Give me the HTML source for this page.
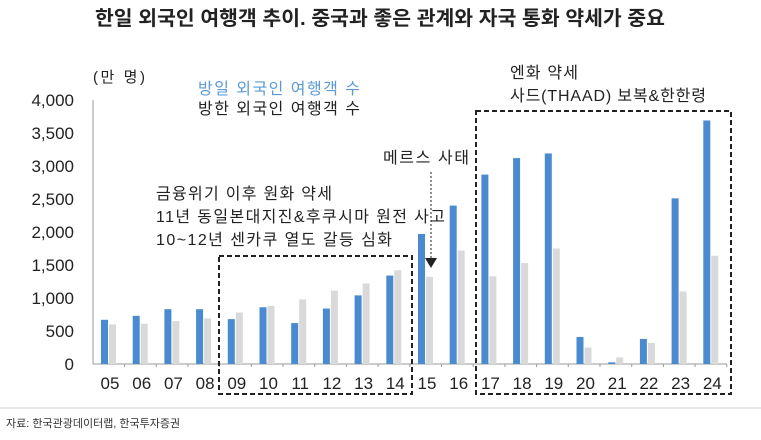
<!DOCTYPE html>
<html><head><meta charset="utf-8"><style>
body{margin:0;background:#fff;}
svg text{font-family:"Liberation Sans","Noto Sans CJK KR",sans-serif;}
</style></head><body>
<svg width="761" height="435" xmlns="http://www.w3.org/2000/svg">
<text x="95" y="25" font-size="20" font-weight="bold" fill="#222" textLength="570" lengthAdjust="spacingAndGlyphs">한일 외국인 여행객 추이. 중국과 좋은 관계와 자국 통화 약세가 중요</text>
<g font-size="17" fill="#222" text-anchor="end">
<text x="74" y="106">4,000</text><text x="74" y="139">3,500</text><text x="74" y="172">3,000</text>
<text x="74" y="205">2,500</text><text x="74" y="238">2,000</text><text x="74" y="271">1,500</text>
<text x="74" y="304">1,000</text><text x="74" y="337">500</text><text x="74" y="370">0</text>
</g>
<text x="93" y="82" font-size="15" fill="#222" textLength="52">(만 명)</text>
<text x="198" y="94" font-size="16" fill="#5b9bd5" textLength="162">방일 외국인 여행객 수</text>
<text x="198" y="114" font-size="16" fill="#222" textLength="162">방한 외국인 여행객 수</text>
<line x1="93" y1="100" x2="93" y2="364" stroke="#999"/>
<line x1="93" y1="364" x2="727" y2="364" stroke="#999"/>
<g id="bars"></g>
<g font-size="17" fill="#222" text-anchor="middle" id="lbl"></g>
<text x="156" y="199" font-size="16" fill="#222" textLength="176">금융위기 이후 원화 약세</text>
<text x="156" y="222" font-size="16" fill="#222" textLength="289">11년 동일본대지진&amp;후쿠시마 원전 사고</text>
<text x="156" y="245" font-size="16" fill="#222" textLength="236">10~12년 센카쿠 열도 갈등 심화</text>
<text x="383" y="163" font-size="16" fill="#222" textLength="86">메르스 사태</text>
<text x="510" y="78" font-size="16" fill="#222" textLength="68">엔화 약세</text>
<text x="510" y="101" font-size="16" fill="#222" textLength="196">사드(THAAD) 보복&amp;한한령</text>
<line x1="431" y1="172" x2="431" y2="260" stroke="#222" stroke-dasharray="2,2"/>
<polygon points="425,258 437,258 431,268" fill="#222"/>
<rect x="219" y="256" width="193" height="138" fill="none" stroke="#222" stroke-width="2" stroke-dasharray="5,3"/>
<rect x="476" y="111" width="255" height="283" fill="none" stroke="#222" stroke-width="2" stroke-dasharray="5,3"/>
<line x1="0" y1="408" x2="761" y2="408" stroke="#ccc"/>
<text x="6" y="427" font-size="11" fill="#333">자료: 한국관광데이터랩, 한국투자증권</text>
</svg>
<script>
var b=[670,730,830,830,680,860,620,840,1040,1340,1970,2400,2870,3120,3190,410,25,380,2510,3690];
var g=[600,610,650,690,780,880,980,1110,1220,1420,1320,1720,1330,1530,1750,250,100,320,1100,1640];
var ns="http://www.w3.org/2000/svg",B=document.getElementById('bars'),L=document.getElementById('lbl');
for(var i=0;i<20;i++){var c=110+i*31.7;
function r(x,v,f){var e=document.createElementNS(ns,'rect');var h=v*0.066;e.setAttribute('x',x);e.setAttribute('y',364-h);e.setAttribute('width',7);e.setAttribute('height',h);e.setAttribute('fill',f);B.appendChild(e);}
r(c-9,b[i],'#4a8ad0');r(c-1,g[i],'#d9d9d9');
var t=document.createElementNS(ns,'line');t.setAttribute('x1',c+14.5);t.setAttribute('x2',c+14.5);t.setAttribute('y1',364);t.setAttribute('y2',367);t.setAttribute('stroke','#999');B.appendChild(t);
var l=document.createElementNS(ns,'text');l.setAttribute('x',c);l.setAttribute('y',389);l.textContent=(i+5<10?'0':'')+(i+5);L.appendChild(l);}
</script>
</body></html>
